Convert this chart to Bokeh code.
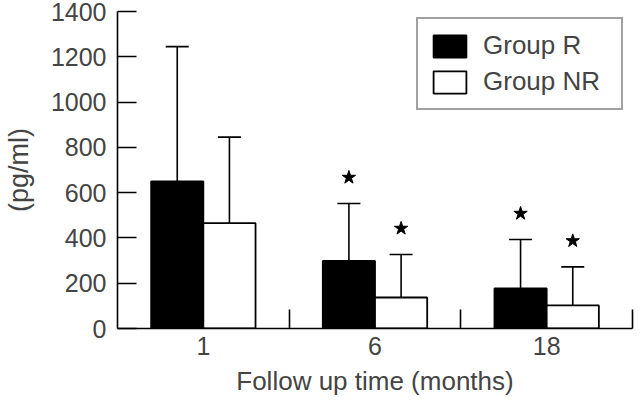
from bokeh.plotting import figure
from bokeh.models import (ColumnDataSource, FixedTicker, Whisker, TeeHead,
                          Legend, LegendItem, Range1d)
from bokeh.transform import dodge
from bokeh.embed import file_html
from bokeh.resources import INLINE

# ---- data ----
months = ["1", "6", "18"]
group_r = [650, 298, 177]
group_r_upper = [1245, 552, 393]
group_r_sig = [False, True, True]
group_nr = [465, 137, 102]
group_nr_upper = [845, 327, 272]
group_nr_sig = [False, True, True]
y_ticks = [0, 200, 400, 600, 800, 1000, 1200, 1400]

FONT = "Liberation Sans"
pos = [i + 0.5 for i in range(len(months))]

p = figure(width=640, height=403, output_backend="svg", toolbar_location=None,
           x_range=Range1d(0, len(months)), y_range=Range1d(0, 1400),
           min_border_left=115, min_border_right=8, min_border_top=11,
           min_border_bottom=75)
p.styles = {"margin": "0px -16px -16px 0px"}
p.outline_line_color = None
p.xgrid.visible = False
p.ygrid.visible = False
p.background_fill_color = "white"

off = 0.152
bw = 0.304

src_r = ColumnDataSource(dict(pos=pos, top=group_r, upper=group_r_upper))
src_nr = ColumnDataSource(dict(pos=pos, top=group_nr, upper=group_nr_upper))

for src, d in ((src_r, -off), (src_nr, off)):
    w = Whisker(source=src, base=dodge("pos", d, range=p.x_range), lower="top", upper="upper",
                dimension="height", line_color="black", line_width=1.6,
                upper_head=TeeHead(size=23, line_color="black", line_width=1.6),
                lower_head=None)
    p.add_layout(w)

r_bar = p.vbar(x=dodge("pos", -off, range=p.x_range), top="top", bottom=0, width=bw,
               source=src_r, fill_color="black", line_color="black", line_width=1.8)
nr_bar = p.vbar(x=dodge("pos", off, range=p.x_range), top="top", bottom=0, width=bw,
                source=src_nr, fill_color="white", line_color="black", line_width=1.8)

# significance stars above the error bars
star_gap = 115
sx, sy = [], []
for i in range(len(months)):
    if group_r_sig[i]:
        sx.append(pos[i] - off); sy.append(group_r_upper[i] + star_gap)
    if group_nr_sig[i]:
        sx.append(pos[i] + off); sy.append(group_nr_upper[i] + star_gap)
p.scatter(x=sx, y=sy, marker="star", size=14, color="black")

# axes
xa = p.xaxis[0]
xa.ticker = FixedTicker(ticks=pos, minor_ticks=[1, 2, 3])
xa.major_label_overrides = {pv: m for pv, m in zip(pos, months)}
xa.major_tick_in = 0
xa.major_tick_out = 0
xa.minor_tick_in = 19
xa.minor_tick_out = 0
xa.minor_tick_line_width = 1.6
xa.axis_line_width = 1.6
xa.major_label_text_font = FONT
xa.major_label_text_font_size = "25px"
xa.major_label_standoff = 8
xa.axis_label = "Follow up time (months)"
xa.axis_label_text_font = FONT
xa.axis_label_text_font_size = "26px"
xa.axis_label_text_font_style = "normal"
xa.axis_label_standoff = 8

ya = p.yaxis[0]
ya.ticker = FixedTicker(ticks=y_ticks)
ya.major_tick_in = 19
ya.major_tick_out = 0
ya.minor_tick_line_color = None
ya.major_tick_line_width = 1.6
ya.axis_line_width = 1.6
ya.major_label_text_font = FONT
ya.major_label_text_font_size = "25px"
ya.major_label_standoff = 11
ya.axis_label = "(pg/ml)"
ya.axis_label_text_font = FONT
ya.axis_label_text_font_size = "27px"
ya.axis_label_text_font_style = "normal"
ya.axis_label_standoff = 14

legend = Legend(items=[LegendItem(label="Group R", renderers=[r_bar]),
                       LegendItem(label="Group NR", renderers=[nr_bar])],
                location=(299, 218), margin=0, padding=11, spacing=5,
                glyph_width=41, glyph_height=28, label_height=28, label_width=127,
                label_standoff=13, label_text_font=FONT, label_text_font_size="26px",
                border_line_color="#444444", border_line_width=2,
                background_fill_alpha=1.0)
p.add_layout(legend)

open("out.html", "w").write(file_html(p, INLINE))
